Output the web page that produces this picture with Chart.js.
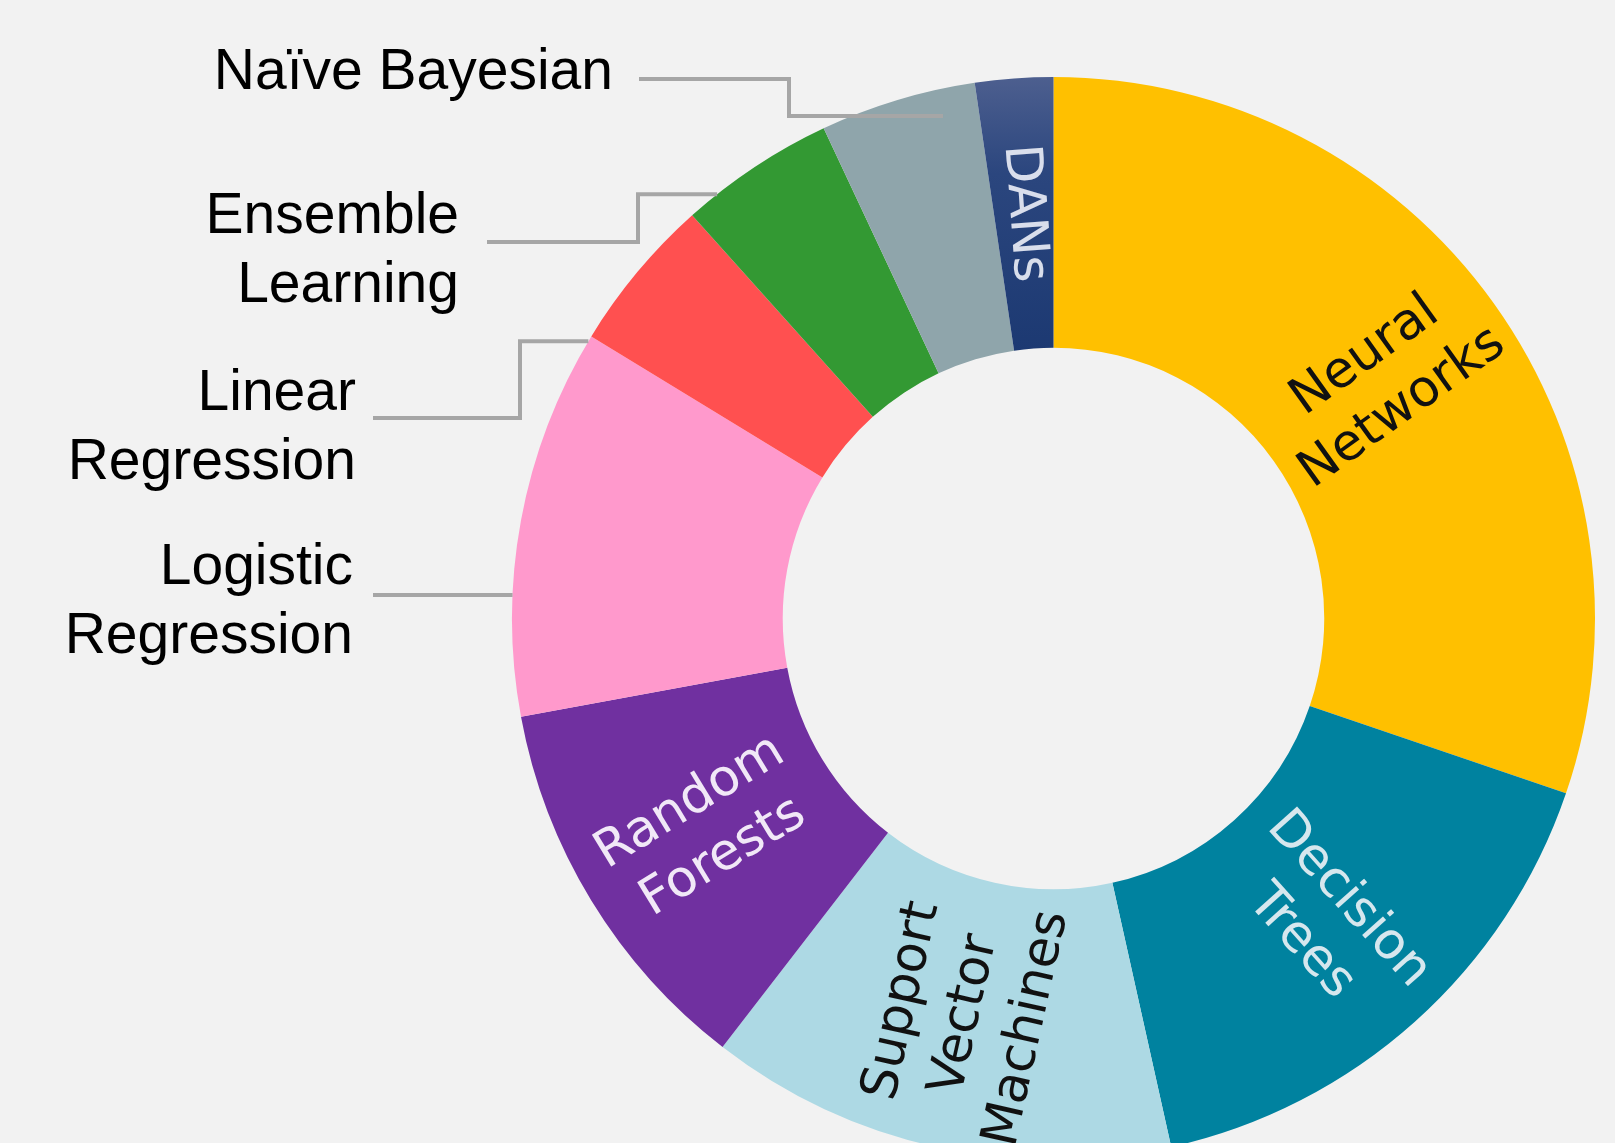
<!DOCTYPE html>
<html>
<head>
<meta charset="utf-8">
<script src="https://cdn.jsdelivr.net/npm/chart.js@4.4.0/dist/chart.umd.min.js"></script>
<style>
  html, body { margin: 0; padding: 0; background: #f2f2f2; overflow: hidden; }
  #wrap { width: 1615px; height: 1143px; overflow: hidden; }
</style>
</head>
<body>
<div id="wrap"><canvas id="chart_methods" width="1615" height="1200"></canvas></div>
<script>
  var labels = ["Neural Networks", "Decision Trees", "Support Vector Machines", "Random Forests",
                "Logistic Regression", "Linear Regression", "Ensemble Learning", "Naïve Bayesian", "DANs"];
  var counts = [13, 7, 6, 5, 5, 2, 2, 2, 1];
  var colors = ["#FFC000", "#00829F", "#ADD9E4", "#7030A0", "#FF99CC", "#FF5050", "#339933", "#8FA5AB", "#1F3A75"];

  // text written inside the ring (null = label sits outside)
  var innerText = [["Neural", "Networks"], ["Decision", "Trees"], ["Support", "Vector", "Machines"],
                   ["Random", "Forests"], null, null, null, null, ["DANs"]];
  var innerColor = ["#111111", "rgba(232,240,244,0.92)", "#111111", "rgba(248,242,252,0.95)",
                    null, null, null, null, "rgba(232,236,245,0.92)"];

  // labels on the left with leader lines
  var callouts = [
    { index: 7, lines: ["Naïve Bayesian"], textX: 613, baseY: 89, lineX: 639, lineY: 79, elbowX: 789, angle: 347.6, r: 0.95 },
    { index: 6, lines: ["Ensemble", "Learning"], textX: 459, baseY: 233, lineX: 487, lineY: 242, elbowX: 638, angle: 321.6, r: 1 },
    { index: 5, lines: ["Linear", "Regression"], textX: 356, baseY: 410, lineX: 373, lineY: 418, elbowX: 520, angle: 300.8, r: 1 },
    { index: 4, lines: ["Logistic", "Regression"], textX: 353, baseY: 584, lineX: 373, lineY: 595, elbowX: null, angle: 272.5, r: 1 }
  ];

  var fill = function (ctx) {
    var i = ctx.dataIndex;
    var area = ctx.chart.chartArea;
    if (i === 8 && area) {
      var g = ctx.chart.ctx.createLinearGradient(0, area.top, 0, area.top + 275);
      g.addColorStop(0, "#4D5F8F");
      g.addColorStop(0.35, "#2B467E");
      g.addColorStop(1, "#1C3972");
      return g;
    }
    return colors[i];
  };

  const ringLabels = {
    id: "ringLabels",
    afterDatasetsDraw(chart) {
      const ctx = chart.ctx;
      const meta = chart.getDatasetMeta(0);
      meta.data.forEach((arc, i) => {
        const lines = innerText[i];
        if (!lines) return;
        const p = arc.getProps(["x", "y", "startAngle", "endAngle", "innerRadius", "outerRadius"], true);
        const mid = (p.startAngle + p.endAngle) / 2;
        const r = (p.innerRadius + p.outerRadius) / 2;
        let rot = mid;
        if (Math.cos(mid) < 0) rot += Math.PI;
        ctx.save();
        ctx.translate(p.x + Math.cos(mid) * r, p.y + Math.sin(mid) * r);
        ctx.rotate(rot);
        ctx.font = '51px "DejaVu Sans"';
        ctx.fillStyle = innerColor[i];
        ctx.textAlign = "center";
        ctx.textBaseline = "middle";
        const lh = 64;
        lines.forEach((t, k) => ctx.fillText(t, 0, (k - (lines.length - 1) / 2) * lh));
        ctx.restore();
      });
    }
  };

  const leaderLabels = {
    id: "leaderLabels",
    afterDatasetsDraw(chart) {
      const ctx = chart.ctx;
      const arc0 = chart.getDatasetMeta(0).data[0];
      const cx = arc0.x, cy = arc0.y, R = arc0.outerRadius;
      ctx.save();
      ctx.font = '57px "Liberation Sans", Arial, sans-serif';
      ctx.fillStyle = "#000";
      ctx.textAlign = "right";
      ctx.textBaseline = "alphabetic";
      callouts.forEach(c => {
        c.lines.forEach((t, k) => ctx.fillText(t, c.textX, c.baseY + k * 69));
        const a = c.angle * Math.PI / 180;
        const ax = cx + Math.sin(a) * R * c.r;
        const ay = cy - Math.cos(a) * R * c.r;
        ctx.beginPath();
        ctx.moveTo(c.lineX, c.lineY);
        if (c.elbowX !== null) {
          ctx.lineTo(c.elbowX, c.lineY);
          ctx.lineTo(c.elbowX, ay);
        }
        ctx.lineTo(ax, ay);
        ctx.strokeStyle = "#A6A6A6";
        ctx.lineWidth = 4;
        ctx.stroke();
      });
      ctx.restore();
    }
  };

  var ctx = document.getElementById("chart_methods").getContext("2d");
  var chart = new Chart(ctx, {
    type: "doughnut",
    data: {
      labels: labels,
      datasets: [{
        data: counts,
        backgroundColor: fill,
        borderWidth: 0,
        hoverOffset: 0
      }]
    },
    options: {
      responsive: false,
      animation: false,
      cutout: "50%",
      layout: { padding: { left: 512, right: 20, top: 77, bottom: 40 } },
      plugins: {
        legend: { display: false },
        tooltip: { enabled: false }
      }
    },
    plugins: [ringLabels, leaderLabels]
  });
</script>
</body>
</html>
